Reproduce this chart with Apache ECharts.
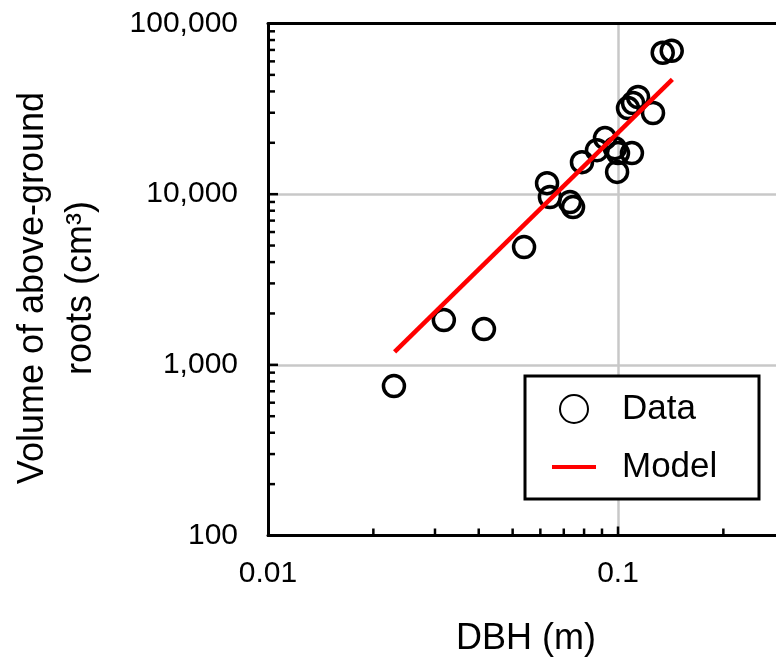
<!DOCTYPE html>
<html><head><meta charset="utf-8">
<script src="https://cdn.jsdelivr.net/npm/echarts@6/dist/echarts.min.js"></script>
<style>html,body{margin:0;padding:0;background:#fff}#c{width:776px;height:664px}</style>
</head><body><div id="c"></div>
<script>
// Observed data (DBH in m, volume in cm^3)
const dbh    = [0.0229, 0.0318, 0.0414, 0.0539, 0.0627, 0.0639, 0.0729, 0.0744, 0.0789, 0.0871, 0.0918, 0.0980, 0.1000, 0.1096, 0.0994, 0.1068, 0.1104, 0.1141, 0.1259, 0.1342, 0.1424];
const volume = [751,    1830,   1620,   4900,   11600,  9620,   8990,   8400,   15400,  18100,  21300,  18600,  17400,  17400,  13500,  31950,  34200,  37100,  29900,  67400,  69200];
// Model line (read endpoints)
const modelDbh    = [0.023, 0.143];
const modelVolume = [1190, 47000];
// Axes
const xTickValues = [0.01, 0.1, 1];
const xTickLabels = ['0.01', '0.1', '1'];
const yTickValues = [100, 1000, 10000, 100000];
const yTickLabels = ['100', '1,000', '10,000', '100,000'];
const xMinorTicks = [0.02,0.03,0.04,0.05,0.06,0.07,0.08,0.09,0.2,0.3,0.4,0.5,0.6,0.7,0.8,0.9];
const yMinorTicks = [200,300,400,500,600,700,800,900,2000,3000,4000,5000,6000,7000,8000,9000,20000,30000,40000,50000,60000,70000,80000,90000];
const xMajorTicks = [0.1, 1];
const yMajorTicks = [1000, 10000];
const xTitle = 'DBH (m)';
const yTitle = 'Volume of above-ground\nroots (cm³)';

const FONT = 'Liberation Sans, Arial, sans-serif';
const X_MIN = 0.01, X_MAX = 1, Y_MIN = 100, Y_MAX = 100000;

function labelFor(values, labels, v) {
  const e = Math.round(Math.log10(v));
  for (let i = 0; i < values.length; i++) if (Math.round(Math.log10(values[i])) === e) return labels[i];
  return '';
}

const chart = echarts.init(document.getElementById('c'), null, {renderer: 'canvas'});
chart.setOption({
  animation: false,
  backgroundColor: '#fff',
  grid: {left: 268, top: 23.5, width: 700, height: 512, containLabel: false, outerBoundsMode: 'none'},
  xAxis: [{
    type: 'log', logBase: 10, min: X_MIN, max: X_MAX,
    axisLine: {show: true, lineStyle: {color: '#000', width: 3}},
    axisTick: {show: false},
    axisLabel: {show: true, margin: 23, color: '#000', fontSize: 30, fontFamily: FONT,
      formatter: v => labelFor(xTickValues, xTickLabels, v)},
    splitLine: {show: true, lineStyle: {color: '#c8c8c8', width: 2.5}}
  }, {
    type: 'log', logBase: 10, min: X_MIN, max: X_MAX, position: 'top',
    axisLine: {show: true, onZero: false, lineStyle: {color: '#000', width: 3}},
    axisTick: {show: false}, axisLabel: {show: false}, splitLine: {show: false}
  }],
  yAxis: {
    type: 'log', logBase: 10, min: Y_MIN, max: Y_MAX,
    axisLine: {show: true, lineStyle: {color: '#000', width: 3}},
    axisTick: {show: false},
    axisLabel: {show: true, margin: 30, color: '#000', fontSize: 30, fontFamily: FONT,
      formatter: v => labelFor(yTickValues, yTickLabels, v)},
    splitLine: {show: true, lineStyle: {color: '#c8c8c8', width: 2.5}}
  },
  legend: {
    orient: 'vertical', left: 552, top: 389, itemWidth: 44, itemHeight: 28, itemGap: 18,
    z: 10, padding: 0, selectedMode: false,
    textStyle: {fontSize: 35, color: '#000', fontFamily: FONT, lineHeight: 40, padding: [0, 0, 0, 21]},
    data: [
      {name: 'Data'},
      {name: 'Model', icon: 'path://M0,0 L44,0 L44,4 L0,4 Z'}
    ]
  },
  series: [
    {
      name: 'Data', type: 'scatter', symbol: 'circle', symbolSize: 21, z: 3,
      itemStyle: {color: 'rgba(0,0,0,0)', borderColor: '#000', borderWidth: 3.5, opacity: 1},
      emphasis: {disabled: true},
      data: dbh.map((d, i) => [d, volume[i]])
    },
    {
      name: 'Model', type: 'line', symbol: 'none', showSymbol: false, z: 4,
      lineStyle: {color: '#ff0000', width: 4.5},
      itemStyle: {color: '#ff0000', opacity: 1},
      data: modelDbh.map((d, i) => [d, modelVolume[i]])
    }
  ]
});

// Ticks positioned through the chart's own log scales (drawn inward)
const tickEls = [];
function addX(values, len) {
  values.forEach(v => {
    const p = chart.convertToPixel({gridIndex: 0}, [v, Y_MIN]);
    tickEls.push({type: 'line', z: 100, zlevel: 1,
      shape: {x1: p[0], y1: p[1], x2: p[0], y2: p[1] - len}, style: {stroke: '#000', lineWidth: 2.5}});
  });
}
function addY(values, len) {
  values.forEach(v => {
    const p = chart.convertToPixel({gridIndex: 0}, [X_MIN, v]);
    tickEls.push({type: 'line', z: 100, zlevel: 1,
      shape: {x1: p[0], y1: p[1], x2: p[0] + len, y2: p[1]}, style: {stroke: '#000', lineWidth: 2.5}});
  });
}
addX(xMinorTicks, 7); addX(xMajorTicks, 9);
addY(yMinorTicks, 7); addY(yMajorTicks, 10);

chart.setOption({
  graphic: [
    {type: 'rect', z: 5, shape: {x: 525, y: 376, width: 234, height: 123},
     style: {fill: '#fff', stroke: '#000', lineWidth: 3}},
    {type: 'text', x: 526, y: 639.5, style: {text: xTitle, font: '36px ' + FONT, fill: '#000', align: 'center', verticalAlign: 'middle'}},
    {type: 'text', x: 57, y: 288, rotation: Math.PI / 2,
     style: {text: yTitle, font: '36px ' + FONT, fill: '#000', align: 'center', verticalAlign: 'middle', lineHeight: 48}}
  ].concat(tickEls)
});
</script></body></html>
